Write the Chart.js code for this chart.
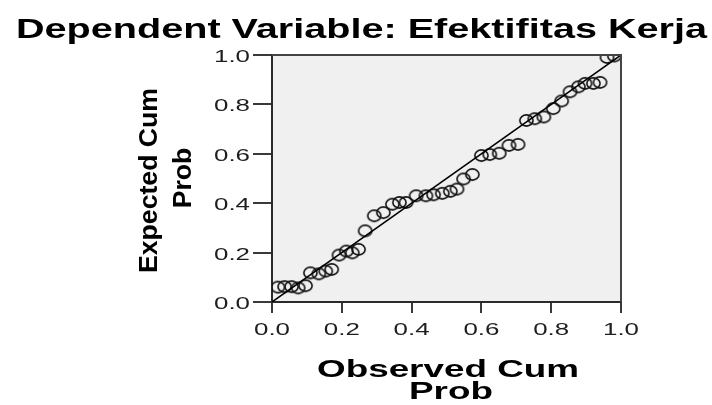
<!DOCTYPE html>
<html>
<head>
<meta charset="utf-8">
<script src="https://cdn.jsdelivr.net/npm/chart.js@4/dist/chart.umd.min.js"></script>
<style>
  html, body { margin: 0; padding: 0; background: #fff; }
  canvas { display: block; }
</style>
</head>
<body>
<canvas id="ppChart" width="712" height="405"></canvas>
<script>
// P-P plot values
const observedProb = [0.017, 0.036, 0.056, 0.075, 0.096, 0.110, 0.134, 0.154, 0.171, 0.192,
    0.213, 0.230, 0.248, 0.267, 0.293, 0.319, 0.345, 0.365, 0.384, 0.413,
    0.441, 0.463, 0.488, 0.511, 0.530, 0.549, 0.574, 0.600, 0.624, 0.651,
    0.679, 0.705, 0.729, 0.753, 0.779, 0.806, 0.830, 0.854, 0.878, 0.897,
    0.921, 0.940, 0.960, 0.981];
const expectedProb = [0.060, 0.062, 0.062, 0.057, 0.066, 0.118, 0.114, 0.125, 0.132, 0.190,
    0.206, 0.199, 0.213, 0.288, 0.349, 0.362, 0.396, 0.403, 0.403, 0.430,
    0.430, 0.434, 0.440, 0.448, 0.457, 0.498, 0.516, 0.593, 0.597, 0.602,
    0.634, 0.638, 0.735, 0.742, 0.749, 0.783, 0.814, 0.851, 0.871, 0.885,
    0.885, 0.889, 0.990, 0.996];

// diagonal reference line
const refX = [0, 1];
const refY = [0, 1];

const tickValues = [0, 0.2, 0.4, 0.6, 0.8, 1.0];
const tickLabels = ['0.0', '0.2', '0.4', '0.6', '0.8', '1.0'];

const titleText = 'Dependent Variable: Efektifitas Kerja';
const xTitle = ['Observed Cum', 'Prob'];
const yTitle = ['Expected Cum', 'Prob'];

const FONT = '"Liberation Sans", Arial, sans-serif';

// the markers in the picture are slightly wider than tall
function makeMarker() {
    const c = document.createElement('canvas');
    c.width = 17;
    c.height = 15;
    const g = c.getContext('2d');
    g.strokeStyle = '#111';
    g.lineWidth = 1.6;
    g.beginPath();
    g.ellipse(8.5, 7.5, 6.6, 5.6, 0, 0, Math.PI * 2);
    g.stroke();
    return c;
}

// draw text squeezed/stretched horizontally so its width matches the picture
function drawWide(ctx, text, x, y, font, scaleX, align) {
    ctx.save();
    ctx.font = font;
    ctx.textAlign = align || 'center';
    ctx.textBaseline = 'alphabetic';
    ctx.translate(x, y);
    ctx.scale(scaleX, 1);
    ctx.fillText(text, 0, 0);
    ctx.restore();
}

function fitScale(ctx, text, font, width) {
    ctx.save();
    ctx.font = font;
    const w = ctx.measureText(text).width;
    ctx.restore();
    return width / w;
}

const plotDecor = {
    id: 'plotDecor',
    beforeDraw(chart) {
        const { ctx, chartArea: a } = chart;
        ctx.save();
        ctx.fillStyle = '#f0f0f0';
        ctx.fillRect(a.left, a.top, a.right - a.left, a.bottom - a.top);
        ctx.restore();
    },
    afterDraw(chart) {
        const { ctx, chartArea: a } = chart;
        const xs = chart.scales.x, ys = chart.scales.y;

        // top and right frame
        ctx.save();
        ctx.strokeStyle = '#444';
        ctx.lineWidth = 2;
        ctx.beginPath();
        ctx.moveTo(a.left, a.top);
        ctx.lineTo(a.right, a.top);
        ctx.lineTo(a.right, a.bottom);
        ctx.stroke();
        ctx.restore();

        // tick labels
        ctx.save();
        ctx.fillStyle = '#1e1e1e';
        const tickFont = '16px ' + FONT;
        const tsx = fitScale(ctx, '0.0', tickFont, 36);
        tickValues.forEach((v, i) => {
            drawWide(ctx, tickLabels[i], xs.getPixelForValue(v), 335, tickFont, tsx, 'center');
            drawWide(ctx, tickLabels[i], 250, ys.getPixelForValue(v) + 7, tickFont, tsx, 'right');
        });
        ctx.restore();

        ctx.save();
        ctx.fillStyle = '#000';
        // main title
        const tFont = 'bold 28px ' + FONT;
        drawWide(ctx, titleText, 361.5, 38, tFont, fitScale(ctx, titleText, tFont, 691));

        // x axis title
        const xFont = 'bold 23px ' + FONT;
        const xsx = fitScale(ctx, xTitle[0], xFont, 262);
        drawWide(ctx, xTitle[0], 448, 377, xFont, xsx);
        drawWide(ctx, xTitle[1], 451, 399, xFont, xsx);

        // y axis title, rotated
        const yFont = 'bold 25px ' + FONT;
        const ysx = fitScale(ctx, yTitle[0], yFont, 185);
        ctx.save();
        ctx.translate(157, 180.5);
        ctx.rotate(-Math.PI / 2);
        drawWide(ctx, yTitle[0], 0, 0, yFont, ysx);
        ctx.restore();
        ctx.save();
        ctx.translate(191, 178);
        ctx.rotate(-Math.PI / 2);
        drawWide(ctx, yTitle[1], 0, 0, yFont, ysx);
        ctx.restore();
        ctx.restore();
    }
};

const points = observedProb.map((x, i) => ({ x: x, y: expectedProb[i] }));
const refLine = refX.map((x, i) => ({ x: x, y: refY[i] }));
const marker = makeMarker();

new Chart(document.getElementById('ppChart').getContext('2d'), {
    type: 'scatter',
    data: {
        datasets: [
            {
                type: 'line',
                data: refLine,
                borderColor: '#000',
                borderWidth: 1.5,
                pointRadius: 0,
                fill: false
            },
            {
                data: points,
                pointStyle: marker,
                pointRadius: 6,
                pointHoverRadius: 6,
                borderColor: '#000',
                backgroundColor: 'rgba(0,0,0,0)',
                clip: 0
            }
        ]
    },
    plugins: [plotDecor],
    options: {
        responsive: false,
        animation: false,
        devicePixelRatio: 1,
        layout: { padding: { left: 0, top: 55, right: 91, bottom: 0 } },
        plugins: {
            legend: { display: false },
            tooltip: { enabled: false }
        },
        scales: {
            x: {
                type: 'linear',
                min: 0,
                max: 1,
                afterFit: s => { s.height = 103; },
                afterBuildTicks: s => { s.ticks = tickValues.map(v => ({ value: v })); },
                ticks: { color: 'rgba(0,0,0,0)' },
                grid: { drawOnChartArea: false, drawTicks: true, tickLength: 11, color: '#3a3a3a', lineWidth: 2 },
                border: { display: true, color: '#2a2a2a', width: 2 }
            },
            y: {
                type: 'linear',
                min: 0,
                max: 1,
                afterFit: s => { s.width = 272; },
                afterBuildTicks: s => { s.ticks = tickValues.map(v => ({ value: v })); },
                ticks: { color: 'rgba(0,0,0,0)' },
                grid: { drawOnChartArea: false, drawTicks: true, tickLength: 19, color: '#3a3a3a', lineWidth: 2 },
                border: { display: true, color: '#2a2a2a', width: 2 }
            }
        }
    }
});
</script>
</body>
</html>
